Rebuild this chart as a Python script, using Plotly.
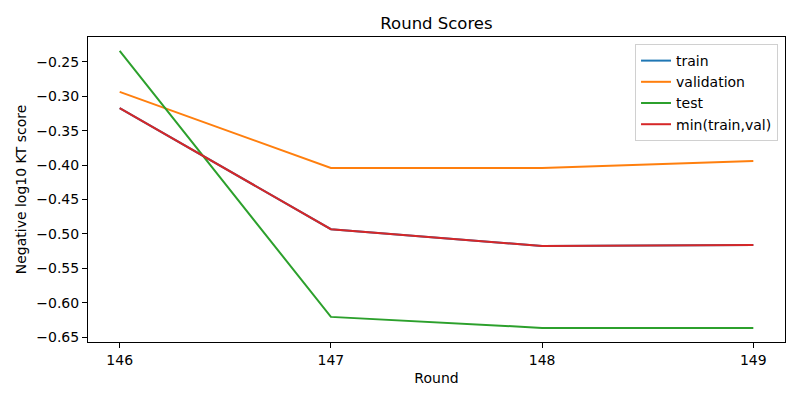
import plotly.graph_objects as go

rounds = [146, 147, 148, 149]
train = [-0.317, -0.493, -0.5175, -0.516]
validation = [-0.2935, -0.404, -0.404, -0.394]
test = [-0.234, -0.6205, -0.6365, -0.6365]
min_train_val = [-0.317, -0.493, -0.5175, -0.516]

y_ticks = [-0.65, -0.60, -0.55, -0.50, -0.45, -0.40, -0.35, -0.30, -0.25]
y_tick_labels = ["−0.65", "−0.60", "−0.55", "−0.50", "−0.45", "−0.40", "−0.35", "−0.30", "−0.25"]

series = [
    ("train", train, "#1f77b4"),
    ("validation", validation, "#ff7f0e"),
    ("test", test, "#2ca02c"),
    ("min(train,val)", min_train_val, "#d62728"),
]

fig = go.Figure()
for name, vals, color in series:
    fig.add_trace(go.Scatter(x=rounds, y=vals, name=name, mode="lines",
                             line=dict(color=color, width=2)))

axis_style = dict(showline=True, linecolor="black", linewidth=1, mirror=True,
                  ticks="outside", ticklen=5, tickcolor="black", showgrid=False,
                  zeroline=False, automargin=False, tickfont=dict(size=14, color="black"))

# page body has an 8px margin, so the figure is a little smaller than the window
fig.update_layout(
    width=792, height=392,
    paper_bgcolor="white", plot_bgcolor="white",
    font=dict(family="DejaVu Sans", size=14, color="black"),
    margin=dict(l=80, r=15, t=29, b=58),
    title=dict(text="Round Scores", x=0.5, xanchor="center", xref="paper",
               yref="container", y=0.9617, yanchor="middle", automargin=False,
               font=dict(size=16.5, color="black")),
    legend=dict(x=0.99, xanchor="right", y=0.977, yanchor="top",
                bordercolor="#d0d0d0", borderwidth=1, bgcolor="white",
                font=dict(size=14), tracegroupgap=0),
    showlegend=True,
)
fig.update_xaxes(axis_style, range=[145.85, 149.15], tickvals=rounds,
                 title=dict(text="Round", font=dict(size=14), standoff=6))
fig.update_yaxes(axis_style, range=[-0.657, -0.2137], tickvals=y_ticks, ticktext=y_tick_labels,
                 title=dict(text="Negative log10 KT score", font=dict(size=14), standoff=6))

fig.write_html("out.html")
